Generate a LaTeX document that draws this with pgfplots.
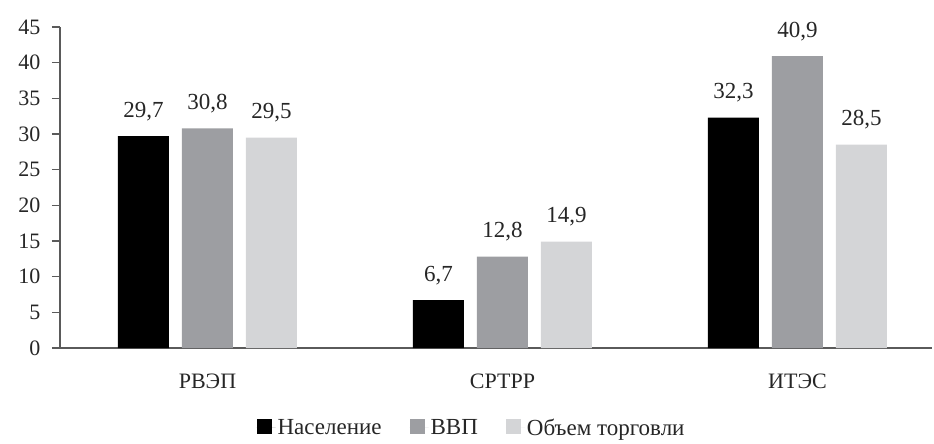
\documentclass[border=0pt]{standalone}
\usepackage{pgfplots}
\pgfplotsset{compat=1.18}
\usepackage{fontspec}
\setmainfont{Liberation Serif}
\definecolor{cA}{HTML}{000000}
\definecolor{cB}{HTML}{9D9EA2}
\definecolor{cC}{HTML}{D4D5D7}
\definecolor{axc}{HTML}{5A5A5A}
\begin{document}
\begin{tikzpicture}
\begin{axis}[
  name=ax,
  scale only axis,
  width=872pt, height=321pt,
  xmin=-0.5, xmax=2.456,
  ymin=0, ymax=45,
  ytick={0,5,...,45},
  xtick={0,1,2},
  xticklabels={РВЭП,СРТРР,ИТЭС},
  axis x line*=bottom, axis y line*=left,
  axis line style={-, draw=axc, line width=1.3pt},
  major y tick style={draw=axc, line width=1.3pt},
  major x tick style={draw=none},
  tick align=outside,
  major tick length=8pt,
  ybar=13pt, bar width=51pt,
  /pgf/number format/assume math mode=true,
  tick label style={font=\rmfamily\fontsize{22}{26}\selectfont, text=black!85},
  yticklabel style={xshift=-8pt},
  xticklabel style={yshift=-14pt},
  nodes near coords,
  nodes near coords style={font=\rmfamily\fontsize{23}{26}\selectfont, text=black!85, anchor=base, yshift=19pt,
    /pgf/number format/.cd, fixed, fixed zerofill, precision=1, use comma},
  legend style={draw=none, at={(0.472,-0.249)}, anchor=center, legend columns=-1,
    font=\rmfamily\fontsize{23}{26}\selectfont, text=black!85,
    /tikz/every even column/.append style={column sep=26pt}},
  legend image code/.code={\fill[#1] (0pt,-6pt) rectangle (15pt,9pt); \path (0pt,0pt) -- (19pt,0pt);},
]
\addplot[fill=cA, draw=none] coordinates {(0,29.7) (1,6.7) (2,32.3)};
\addplot[fill=cB, draw=none] coordinates {(0,30.8) (1,12.8) (2,40.9)};
\addplot[fill=cC, draw=none] coordinates {(0,29.5) (1,14.9) (2,28.5)};
\legend{Население,ВВП,Объем торговли}
\end{axis}
\path (ax.south west) ++(-60pt,-96pt) rectangle ++(934pt,444pt);
\end{tikzpicture}
\end{document}
